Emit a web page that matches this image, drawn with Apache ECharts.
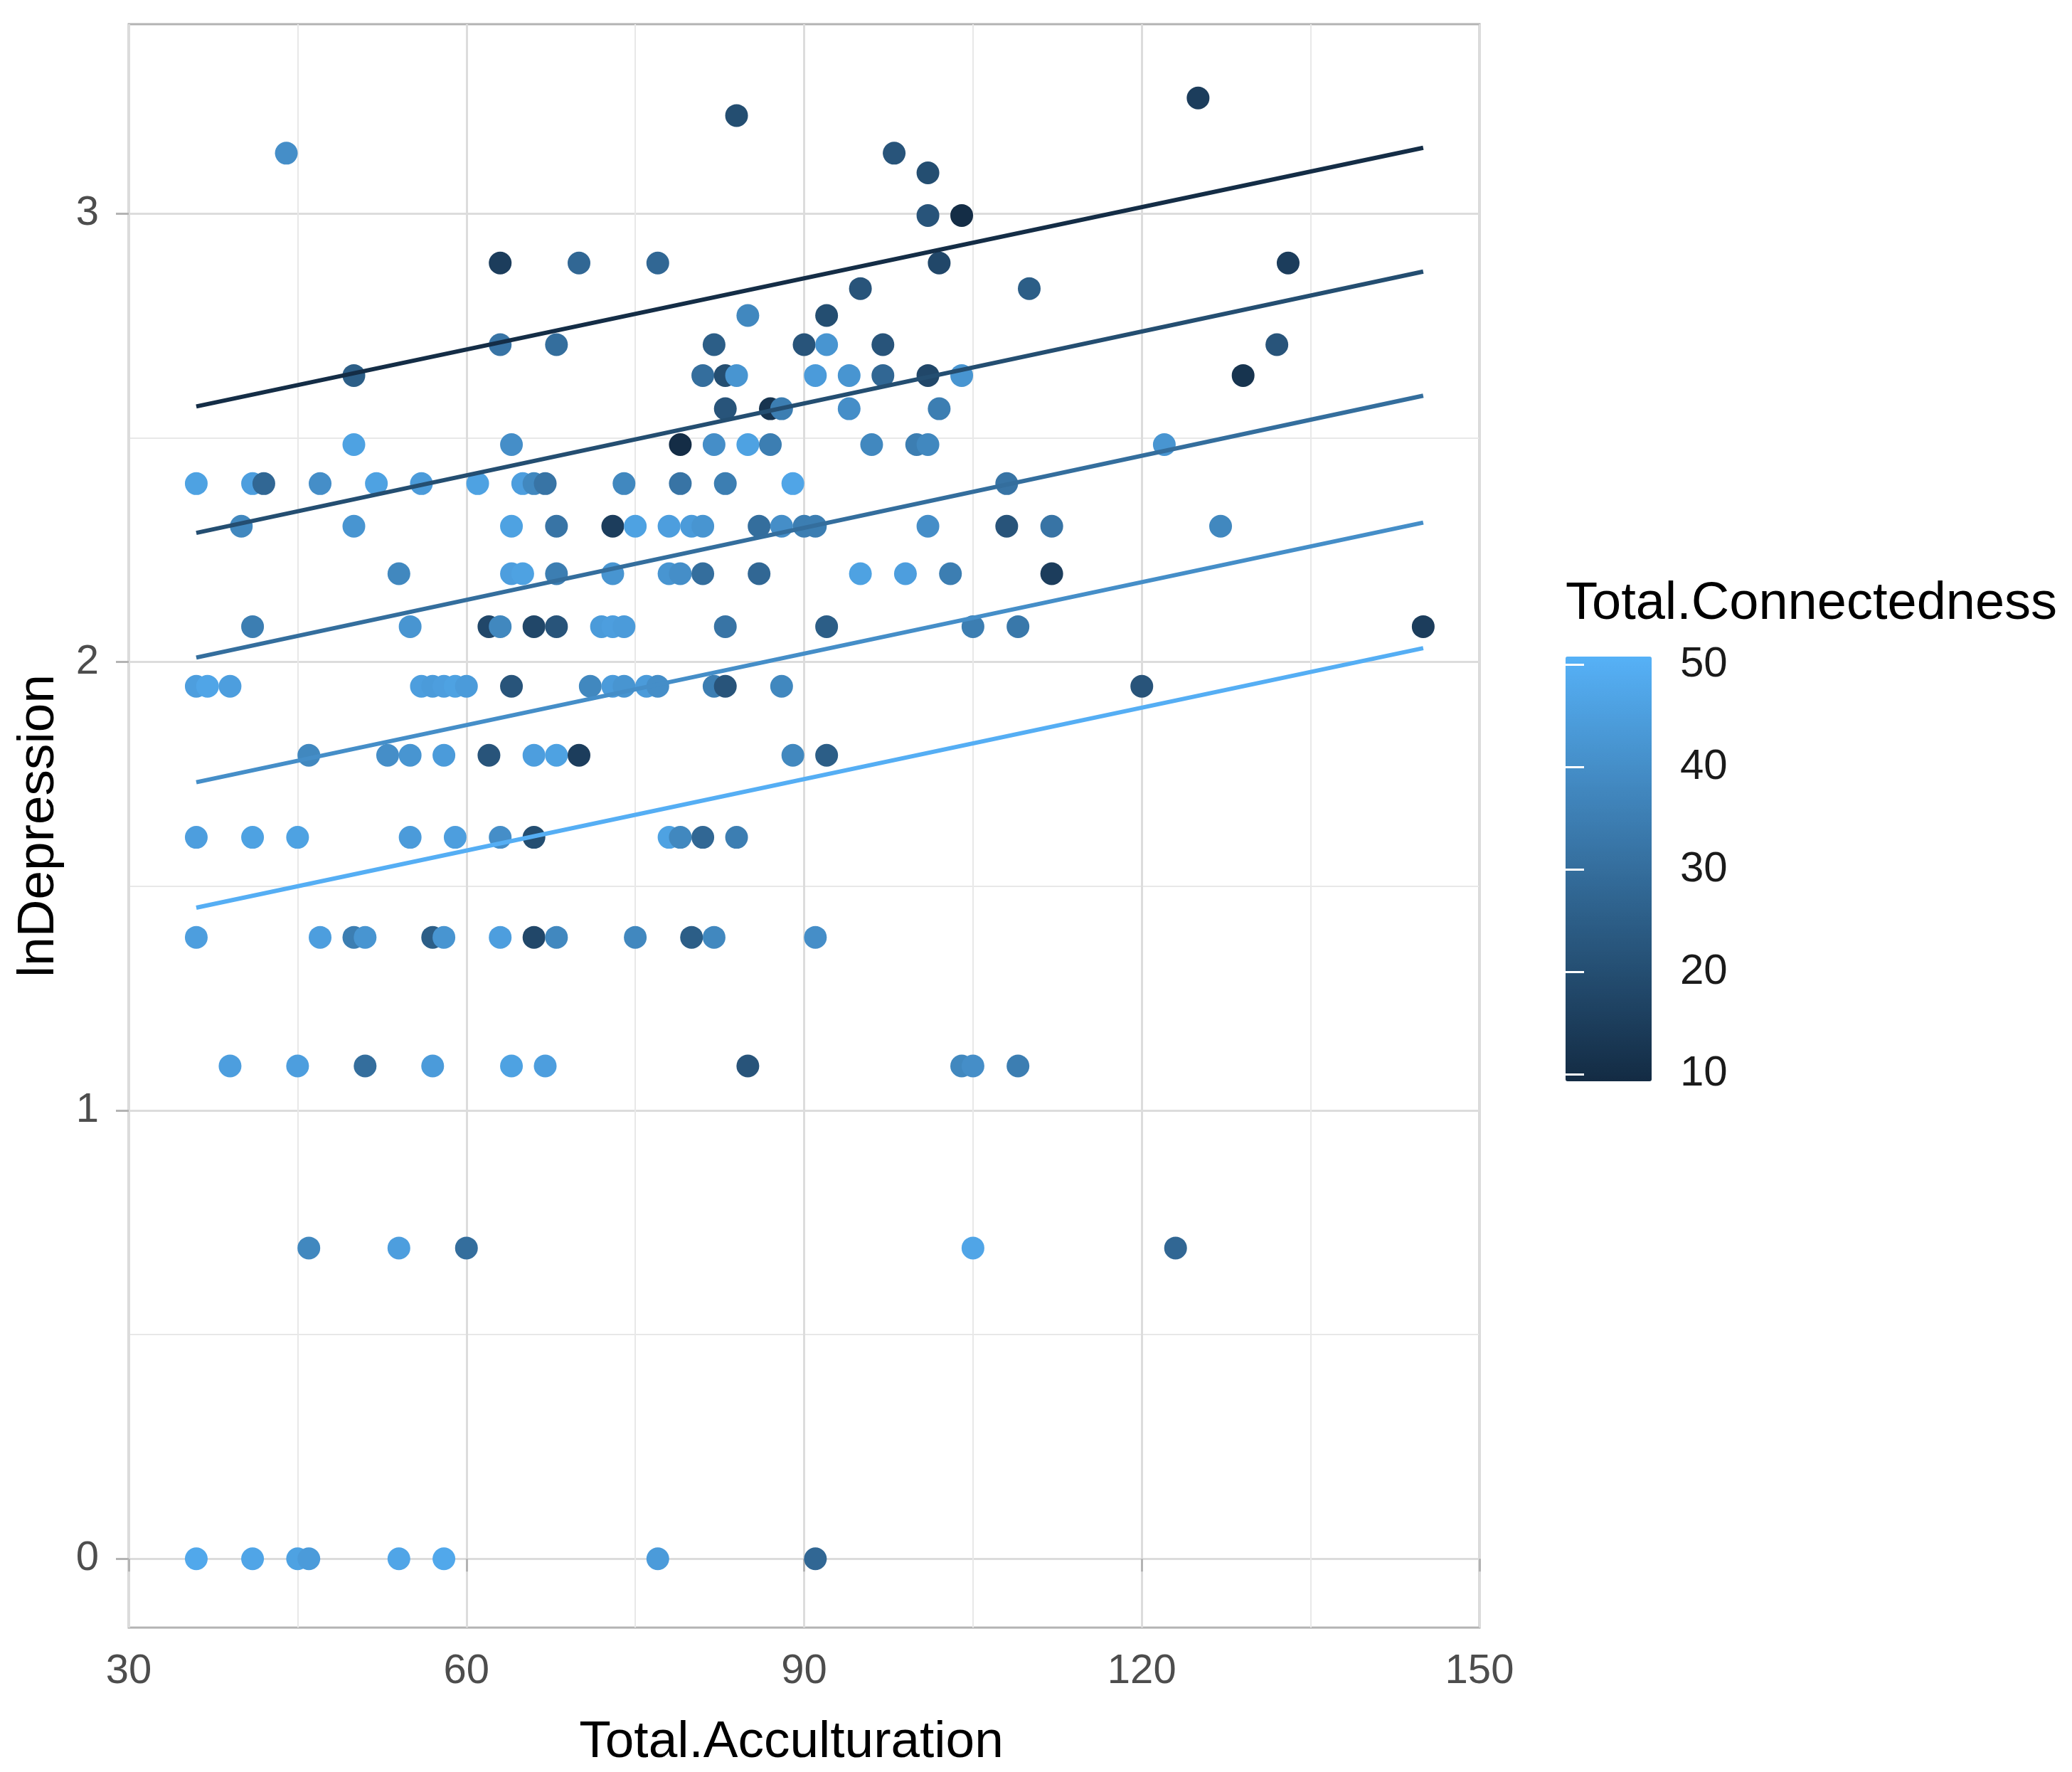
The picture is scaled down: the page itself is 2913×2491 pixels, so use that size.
<!DOCTYPE html>
<html>
<head>
<meta charset="utf-8">
<script src="https://cdn.jsdelivr.net/npm/echarts@6/dist/echarts.min.js"></script>
<style>
  html, body { margin: 0; padding: 0; background: #fff; }
  #chart { width: 2913px; height: 2491px; }
</style>
</head>
<body>
<div id="chart"></div>
<script>
// lnDepression takes discrete values (log of a count); one row of points per level
const rowLnDep = [0, 0.693, 1.099, 1.386, 1.609, 1.792, 1.946, 2.079, 2.197, 2.303, 2.398,
                  2.485, 2.565, 2.639, 2.708, 2.773, 2.833, 2.890, 2.996, 3.091, 3.135, 3.219, 3.258];

// Total.Acculturation of each point in the row
const rowAccult = [
  [36, 41, 45, 46, 54, 58, 77, 91],
  [46, 54, 60, 105, 123],
  [39, 45, 51, 57, 64, 67, 85, 104, 105, 109],
  [36, 47, 50, 51, 57, 58, 63, 66, 68, 75, 80, 82, 91],
  [36, 41, 45, 55, 59, 63, 66, 78, 79, 81, 84],
  [46, 53, 55, 58, 62, 66, 68, 70, 89, 92],
  [36, 37, 39, 56, 57, 58, 59, 60, 64, 71, 73, 74, 76, 77, 82, 83, 88, 120],
  [41, 55, 62, 63, 66, 68, 72, 73, 74, 83, 92, 105, 109, 145],
  [54, 64, 65, 68, 73, 78, 79, 81, 86, 95, 99, 103, 112],
  [40, 50, 64, 68, 73, 75, 78, 80, 81, 86, 88, 90, 91, 101, 108, 112, 127],
  [36, 41, 42, 47, 52, 56, 61, 65, 66, 67, 74, 79, 83, 89, 108],
  [50, 64, 79, 82, 85, 87, 96, 100, 101, 122],
  [83, 87, 88, 94, 102],
  [50, 81, 83, 84, 91, 94, 97, 101, 104, 129],
  [63, 68, 82, 90, 92, 97, 132],
  [85, 92],
  [95, 110],
  [63, 70, 77, 102, 133],
  [101, 104],
  [101],
  [44, 98],
  [84],
  [125]
];

// Total.Connectedness of each point in the row
const rowConnect = [
  [48, 47, 46, 44, 47, 48, 44, 28],
  [38, 45, 30, 47, 28],
  [45, 45, 30, 44, 46, 45, 22, 38, 40, 35],
  [45, 45, 35, 42, 25, 42, 45, 18, 38, 38, 25, 38, 40],
  [45, 46, 46, 44, 45, 40, 20, 46, 38, 28, 35],
  [38, 40, 42, 44, 22, 45, 46, 15, 38, 25],
  [45, 47, 45, 45, 44, 45, 46, 44, 22, 38, 44, 42, 44, 40, 35, 22, 38, 22],
  [35, 42, 18, 38, 18, 22, 44, 45, 44, 32, 25, 35, 33, 15],
  [38, 45, 46, 35, 42, 42, 40, 30, 28, 46, 45, 35, 15],
  [38, 42, 46, 32, 15, 46, 45, 44, 42, 30, 40, 35, 35, 40, 22, 32, 38],
  [46, 45, 28, 40, 46, 44, 46, 45, 38, 32, 38, 32, 35, 47, 32],
  [46, 40, 10, 40, 46, 35, 38, 35, 38, 42],
  [22, 12, 35, 40, 35],
  [25, 30, 20, 42, 44, 42, 28, 18, 42, 12],
  [32, 30, 25, 22, 42, 22, 22],
  [38, 20],
  [22, 25],
  [15, 28, 28, 18, 15],
  [22, 10],
  [20],
  [40, 22],
  [20],
  [15]
];

// fitted lines at fixed Total.Connectedness values
const fitConnect = [10, 20, 30, 40, 50];
const fitAccult = [36, 145];
const fitLnDep = [
  [2.570, 3.147],
  [2.288, 2.871],
  [2.010, 2.594],
  [1.732, 2.311],
  [1.452, 2.031]
];

const yTicks = [0, 1, 2, 3];
const yMinorTicks = [0.5, 1.5, 2.5];
const legendTicks = [10, 20, 30, 40, 50];

const connectMin = 9.3;
const connectMax = 50.8;
const lowColor = '#132B43';
const highColor = '#56B1F7';
const font = 'Liberation Sans, Arial, sans-serif';

function hexRgb(h) {
  return [1, 3, 5].map(function (i) { return parseInt(h.substr(i, 2), 16); });
}

// same linear ramp the visualMap uses for the points
function rampColor(v) {
  const t = (v - connectMin) / (connectMax - connectMin);
  const a = hexRgb(lowColor), b = hexRgb(highColor);
  const c = a.map(function (x, i) { return Math.round(x + (b[i] - x) * t); });
  return 'rgb(' + c.join(',') + ')';
}

const points = [];
rowLnDep.forEach(function (y, i) {
  rowAccult[i].forEach(function (x, j) {
    points.push([x, y, rowConnect[i][j]]);
  });
});

const fitSeries = fitConnect.map(function (c, i) {
  return {
    type: 'line',
    name: 'fit ' + c,
    xAxisIndex: 0,
    yAxisIndex: 0,
    data: fitAccult.map(function (x, k) { return [x, fitLnDep[i][k]]; }),
    showSymbol: false,
    silent: true,
    z: 4,
    lineStyle: { color: rampColor(c), width: 6 }
  };
});

const gridLine = { color: '#DCDCDC', width: 3 };
const minorLine = { color: '#E8E8E8', width: 2 };
const tickLine = { color: '#B3B3B3', width: 3 };
const legendTick = { color: '#ffffff', width: 3 };

const chart = echarts.init(document.getElementById('chart'), null, { renderer: 'canvas' });

chart.setOption({
  animation: false,
  backgroundColor: '#ffffff',
  title: {
    text: 'Total.Connectedness',
    left: 2201,
    top: 813,
    padding: 0,
    textStyle: { fontSize: 74, fontWeight: 'normal', color: '#000', fontFamily: font }
  },
  grid: [
    { left: 181, top: 34, width: 1899, height: 2259, show: true,
      borderColor: '#B3B3B3', borderWidth: 3, backgroundColor: '#fff' },
    { left: 2203, top: 923, width: 121, height: 597, show: false }
  ],
  xAxis: [
    {
      gridIndex: 0, type: 'value', min: 30, max: 150, interval: 30,
      name: 'Total.Acculturation', nameLocation: 'middle', nameGap: 125,
      nameTextStyle: { fontSize: 73, color: '#000', fontFamily: font, padding: [0, 36, 0, 0] },
      axisLine: { show: false },
      axisTick: { show: true, length: 18, lineStyle: tickLine },
      axisLabel: { fontSize: 58, color: '#4D4D4D', margin: 33, fontFamily: font },
      splitLine: { show: true, lineStyle: gridLine },
      minorTick: { show: false, splitNumber: 2 },
      minorSplitLine: { show: true, lineStyle: minorLine }
    },
    { gridIndex: 1, type: 'value', min: 0, max: 1, show: false }
  ],
  yAxis: [
    {
      gridIndex: 0, type: 'value', min: -0.1536, max: 3.4227, position: 'left',
      name: 'lnDepression', nameLocation: 'middle', nameGap: 90, nameRotate: 90,
      nameTextStyle: { fontSize: 73, color: '#000', fontFamily: font },
      axisLine: { show: false },
      axisTick: { show: true, length: 18, lineStyle: tickLine, customValues: yTicks },
      axisLabel: { fontSize: 58, color: '#4D4D4D', margin: 42, fontFamily: font, customValues: yTicks },
      splitLine: { show: true, lineStyle: gridLine }
    },
    {
      gridIndex: 0, type: 'value', min: -0.1536, max: 3.4227, position: 'right',
      axisLine: { show: false },
      axisTick: { show: false, customValues: yMinorTicks },
      axisLabel: { show: false, customValues: yMinorTicks },
      splitLine: { show: true, lineStyle: minorLine }
    },
    {
      gridIndex: 1, type: 'value', min: connectMin, max: connectMax, position: 'right', z: 10,
      axisLine: { show: false },
      axisTick: { show: true, inside: true, length: 24, lineStyle: legendTick,
                  customValues: legendTicks },
      axisLabel: { fontSize: 60, color: '#1A1A1A', margin: 38, fontFamily: font,
                   customValues: legendTicks },
      splitLine: { show: false }
    },
    {
      gridIndex: 1, type: 'value', min: connectMin, max: connectMax, position: 'left', z: 10,
      axisLine: { show: false },
      axisTick: { show: true, inside: true, length: 24, lineStyle: legendTick,
                  customValues: legendTicks },
      axisLabel: { show: false },
      splitLine: { show: false }
    }
  ],
  visualMap: {
    type: 'continuous',
    seriesIndex: 0,
    dimension: 2,
    min: connectMin,
    max: connectMax,
    inRange: { color: [lowColor, highColor] },
    calculable: false,
    hoverLink: false,
    orient: 'vertical',
    left: 2201,
    top: 923,
    padding: 0,
    itemWidth: 121,
    itemHeight: 597,
    text: null
  },
  series: [
    {
      type: 'scatter',
      name: 'points',
      xAxisIndex: 0,
      yAxisIndex: 0,
      data: points,
      symbol: 'circle',
      symbolSize: 32,
      z: 3,
      itemStyle: { opacity: 1 }
    }
  ].concat(fitSeries)
});
</script>
</body>
</html>
